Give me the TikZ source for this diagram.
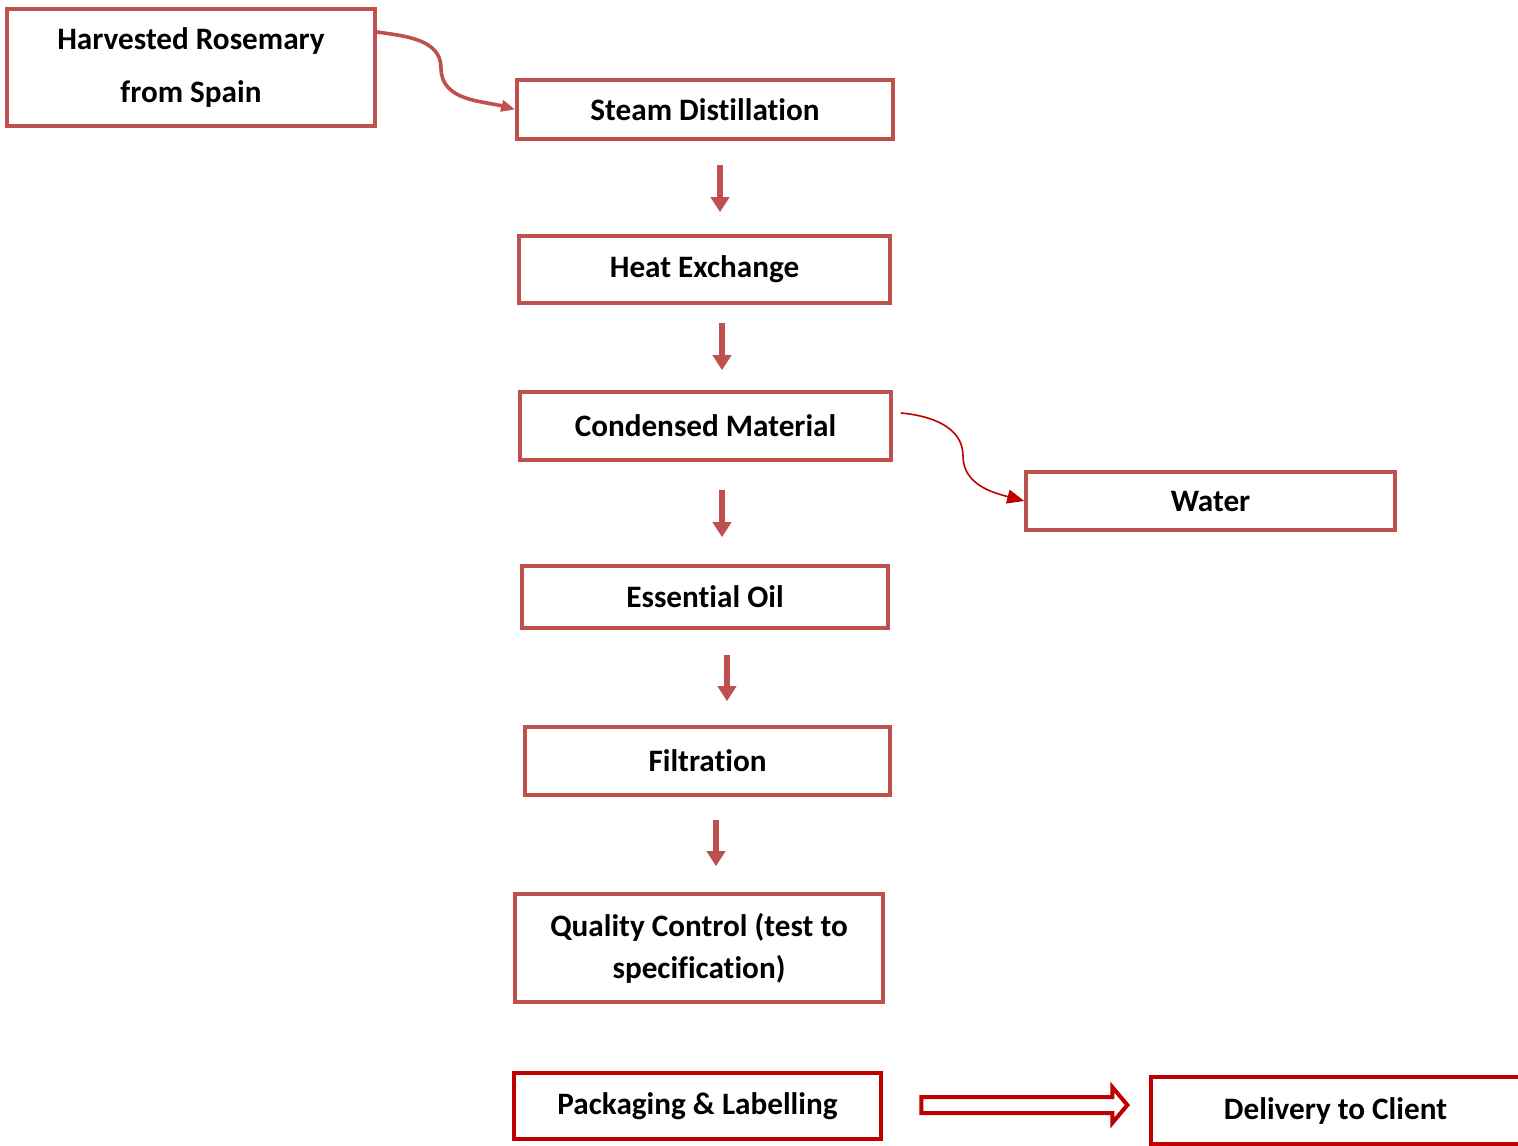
\documentclass[tikz,border=0pt]{standalone}
\usepackage{fontspec}
\setmainfont{Carlito}[Ligatures={NoCommon}]
\usetikzlibrary{arrows.meta,shapes.arrows}
\definecolor{boxred}{HTML}{C0504D}
\definecolor{deepred}{HTML}{C00000}
\tikzset{
  stepbox/.style={draw=boxred, line width=1.8pt, rectangle, align=center,
    font=\fontsize{15.6}{18}\selectfont\bfseries},
  flow/.style={draw=boxred, line width=2.6pt, -{Triangle[length=7.5pt,width=9pt]}},
}
\begin{document}
\begin{tikzpicture}[x=0.5pt,y=-0.5pt]
\useasboundingbox (0,0) rectangle (1518,1145);
\node[stepbox, minimum width=184pt, minimum height=58.5pt, font=\fontsize{15.6}{26.5}\selectfont\bfseries] (harvest) at (191,67.5) {Harvested Rosemary\\from Spain};
\node[stepbox, minimum width=188pt, minimum height=29.5pt] (steam) at (705,109.5) {Steam Distillation};
\node[stepbox, minimum width=185.5pt, minimum height=33.5pt] (heat) at (704.5,269.5) {Heat Exchange};
\node[stepbox, minimum width=185.5pt, minimum height=34pt] (cond) at (705.5,426) {Condensed Material};
\node[stepbox, minimum width=184.5pt, minimum height=29pt] (water) at (1210.5,501) {Water};
\node[stepbox, minimum width=183pt, minimum height=31pt] (oil) at (705,597) {Essential Oil};
\node[stepbox, minimum width=182.5pt, minimum height=34pt] (filter) at (707.5,761) {Filtration};
\node[stepbox, minimum width=184pt, minimum height=54pt, font=\fontsize{15.6}{21}\selectfont\bfseries] (quality) at (699,948) {Quality Control (test to\\specification)};
\node[stepbox, draw=deepred, minimum width=183.5pt, minimum height=33pt] (pack) at (697.5,1106) {Packaging \& Labelling};
\node[stepbox, draw=deepred, minimum width=184.5pt, minimum height=33.5pt] (deliver) at (1335.5,1110.5) {Delivery to Client};

\coordinate (bend1) at (441,68);
\coordinate (bend2) at (963,456);

\path[draw,boxred,line width=1.8pt,-{Triangle[length=7pt,width=5.5pt]}] ([yshift=17.75pt]harvest.east) to[out=-8,in=90] (bend1) to[out=-90,in=165] (steam.west);
\path[draw,deepred,line width=0.8pt,-{Triangle[length=8.5pt,width=7pt]}] ([xshift=4pt,yshift=6.5pt]cond.east) to[out=-5,in=90] (bend2) to[out=-90,in=165] (water.west);

\path[flow,shorten <=12pt,shorten >=11pt] ([xshift=7.5pt]steam.south) -- ([xshift=7.5pt]steam.south |- heat.north);
\path[flow,shorten <=9pt,shorten >=10pt] ([xshift=8.75pt]heat.south) -- ([xshift=8.75pt]heat.south |- cond.north);
\path[flow,shorten <=14pt,shorten >=13.5pt] ([xshift=8.25pt]cond.south) -- ([xshift=8.25pt]cond.south |- oil.north);
\path[flow,shorten <=12.5pt,shorten >=12pt] ([xshift=11pt]oil.south) -- ([xshift=11pt]oil.south |- filter.north);
\path[flow,shorten <=11.5pt,shorten >=13pt] ([xshift=4.25pt]filter.south) -- ([xshift=4.25pt]filter.south |- quality.north);

\node[single arrow, draw=deepred, line width=2pt, inner sep=3pt, minimum height=103pt,
  single arrow head extend=5pt, single arrow tip angle=100] (ship) at (1021,1105) {};
\end{tikzpicture}
\end{document}
